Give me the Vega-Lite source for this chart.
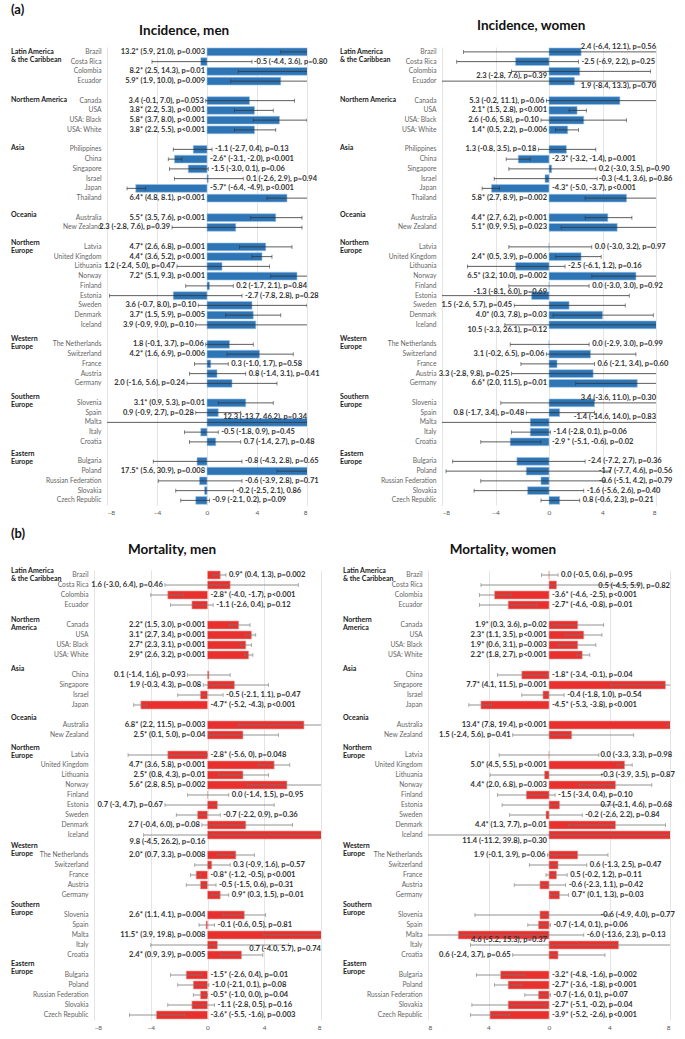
{
"$schema": "https://vega.github.io/schema/vega-lite/v6.json",
"background": "white",
"padding": {"left": 11, "top": 4, "right": 0, "bottom": 0},
"config": {
  "font": "Lato",
  "view": {"stroke": null},
  "axis": {"domain": false, "ticks": false, "labelColor": "#555", "labelFontSize": 6.5, "gridColor": "#d4d4d4", "gridWidth": 0.6},
  "title": {"font": "Lato", "color": "#111"}
},
"resolve": {"scale": {"x": "independent", "y": "independent"}},
"spacing": 12,
"vconcat": [
{
 "title": {"text": "(a)", "anchor": "start", "fontSize": 13, "fontWeight": "bold", "offset": 2},
 "spacing": 12,
 "resolve": {"scale": {"x": "independent", "y": "independent"}},
 "hconcat": [
 {
  "title": {"text": "Incidence, men", "fontSize": 13.5, "fontWeight": "bold", "anchor": "middle", "offset": 10, "dx": 15},
  "bounds": "flush",
  "spacing": 86,
  "resolve": {"scale": {"x": "independent", "y": "independent"}},
  "hconcat": [
  {
   "width": 10, "height": {"step": 9.75},
   "data": {"values": [
    {"g": "Latin America|& the Caribbean", "c": "Brazil"}, {"g": "Northern America", "c": "Canada"}, {"g": "Asia", "c": "Philippines"}, {"g": "Oceania", "c": "Australia"},
    {"g": "Northern|Europe", "c": "Latvia"}, {"g": "Western|Europe", "c": "The Netherlands"}, {"g": "Southern|Europe", "c": "Slovenia"}, {"g": "Eastern|Europe", "c": "Bulgaria"}]},
   "mark": {"type": "text", "align": "left", "baseline": "middle", "lineBreak": "|", "lineHeight": 8, "fontWeight": "bold", "fontSize": 7, "color": "#222"},
   "encoding": {
    "y": {"field": "c", "type": "nominal", "scale": {"domain": ["Brazil","Costa Rica","Colombia","Ecuador","_1","Canada","USA","USA: Black","USA: White","_2","Philippines","China","Singapore","Israel","Japan","Thailand","_3","Australia","New Zealand","_4","Latvia","United Kingdom","Lithuania","Norway","Finland","Estonia","Sweden","Denmark","Iceland","_5","The Netherlands","Switzerland","France","Austria","Germany","_6","Slovenia","Spain","Malta","Italy","Croatia","_7","Bulgaria","Poland","Russian Federation","Slovakia","Czech Republic"], "paddingInner": 0.2, "paddingOuter": 0.1}, "axis": null},
    "x": {"datum": 0, "type": "quantitative", "scale": {"domain": [0, 1]}, "axis": null},
    "text": {"field": "g"}
   }
  },
  {
  "data": {"values": [
{"r":"Latin America","c":"Brazil","e":13.2,"lo":5.9,"hi":21.0,"t":"13.2* (5.9, 21.0), p=0.003","s":"L"},
{"r":"Latin America","c":"Costa Rica","e":-0.5,"lo":-4.4,"hi":3.6,"t":"-0.5 (-4.4, 3.6), p=0.80","s":"R"},
{"r":"Latin America","c":"Colombia","e":8.2,"lo":2.5,"hi":14.3,"t":"8.2* (2.5, 14.3), p=0.01","s":"L"},
{"r":"Latin America","c":"Ecuador","e":5.9,"lo":1.9,"hi":10.0,"t":"5.9* (1.9, 10.0), p=0.009","s":"L"},
{"r":"Northern America","c":"Canada","e":3.4,"lo":-0.1,"hi":7.0,"t":"3.4 (-0.1, 7.0), p=0.053","s":"L"},
{"r":"Northern America","c":"USA","e":3.8,"lo":2.2,"hi":5.3,"t":"3.8* (2.2, 5.3), p<0.001","s":"L"},
{"r":"Northern America","c":"USA: Black","e":5.8,"lo":3.7,"hi":8.0,"t":"5.8* (3.7, 8.0), p<0.001","s":"L"},
{"r":"Northern America","c":"USA: White","e":3.8,"lo":2.2,"hi":5.5,"t":"3.8* (2.2, 5.5), p<0.001","s":"L"},
{"r":"Asia","c":"Philippines","e":-1.1,"lo":-2.7,"hi":0.4,"t":"-1.1 (-2.7, 0.4), p=0.13","s":"R"},
{"r":"Asia","c":"China","e":-2.6,"lo":-3.1,"hi":-2.0,"t":"-2.6* (-3.1, -2.0), p<0.001","s":"R"},
{"r":"Asia","c":"Singapore","e":-1.5,"lo":-3.0,"hi":0.1,"t":"-1.5 (-3.0, 0.1), p=0.06","s":"R"},
{"r":"Asia","c":"Israel","e":0.1,"lo":-2.6,"hi":2.9,"t":"0.1 (-2.6, 2.9), p=0.94","s":"R"},
{"r":"Asia","c":"Japan","e":-5.7,"lo":-6.4,"hi":-4.9,"t":"-5.7* (-6.4, -4.9), p<0.001","s":"R"},
{"r":"Asia","c":"Thailand","e":6.4,"lo":4.8,"hi":8.1,"t":"6.4* (4.8, 8.1), p<0.001","s":"L"},
{"r":"Oceania","c":"Australia","e":5.5,"lo":3.5,"hi":7.6,"t":"5.5* (3.5, 7.6), p<0.001","s":"L"},
{"r":"Oceania","c":"New Zealand","e":2.3,"lo":-2.8,"hi":7.6,"t":"2.3 (-2.8, 7.6), p=0.39","s":"L"},
{"r":"Northern Europe","c":"Latvia","e":4.7,"lo":2.6,"hi":6.8,"t":"4.7* (2.6, 6.8), p=0.001","s":"L"},
{"r":"Northern Europe","c":"United Kingdom","e":4.4,"lo":3.6,"hi":5.2,"t":"4.4* (3.6, 5.2), p<0.001","s":"L"},
{"r":"Northern Europe","c":"Lithuania","e":1.2,"lo":-2.4,"hi":5.0,"t":"1.2 (-2.4, 5.0), p=0.47","s":"L"},
{"r":"Northern Europe","c":"Norway","e":7.2,"lo":5.1,"hi":9.3,"t":"7.2* (5.1, 9.3), p<0.001","s":"L"},
{"r":"Northern Europe","c":"Finland","e":0.2,"lo":-1.7,"hi":2.1,"t":"0.2 (-1.7, 2.1), p=0.84","s":"R"},
{"r":"Northern Europe","c":"Estonia","e":-2.7,"lo":-7.8,"hi":2.8,"t":"-2.7 (-7.8, 2.8), p=0.28","s":"R"},
{"r":"Northern Europe","c":"Sweden","e":3.6,"lo":-0.7,"hi":8.0,"t":"3.6 (-0.7, 8.0), p=0.10","s":"L"},
{"r":"Northern Europe","c":"Denmark","e":3.7,"lo":1.5,"hi":5.9,"t":"3.7* (1.5, 5.9), p=0.005","s":"L"},
{"r":"Northern Europe","c":"Iceland","e":3.9,"lo":-0.9,"hi":9.0,"t":"3.9 (-0.9, 9.0), p=0.10","s":"L"},
{"r":"Western Europe","c":"The Netherlands","e":1.8,"lo":-0.1,"hi":3.7,"t":"1.8 (-0.1, 3.7), p=0.06","s":"L"},
{"r":"Western Europe","c":"Switzerland","e":4.2,"lo":1.6,"hi":6.9,"t":"4.2* (1.6, 6.9), p=0.006","s":"L"},
{"r":"Western Europe","c":"France","e":0.3,"lo":-1.0,"hi":1.7,"t":"0.3 (-1.0, 1.7), p=0.58","s":"R"},
{"r":"Western Europe","c":"Austria","e":0.8,"lo":-1.4,"hi":3.1,"t":"0.8 (-1.4, 3.1), p=0.41","s":"R"},
{"r":"Western Europe","c":"Germany","e":2.0,"lo":-1.6,"hi":5.6,"t":"2.0 (-1.6, 5.6), p=0.24","s":"L"},
{"r":"Southern Europe","c":"Slovenia","e":3.1,"lo":0.9,"hi":5.3,"t":"3.1* (0.9, 5.3), p=0.01","s":"L"},
{"r":"Southern Europe","c":"Spain","e":0.9,"lo":-0.9,"hi":2.7,"t":"0.9 (-0.9, 2.7), p=0.28","s":"L"},
{"r":"Southern Europe","c":"Malta","e":12.3,"lo":-13.7,"hi":46.2,"t":"12.3 (-13.7, 46.2), p=0.34","s":"RT"},
{"r":"Southern Europe","c":"Italy","e":-0.5,"lo":-1.8,"hi":0.9,"t":"-0.5 (-1.8, 0.9), p=0.45","s":"R"},
{"r":"Southern Europe","c":"Croatia","e":0.7,"lo":-1.4,"hi":2.7,"t":"0.7 (-1.4, 2.7), p=0.48","s":"R"},
{"r":"Eastern Europe","c":"Bulgaria","e":-0.8,"lo":-4.3,"hi":2.8,"t":"-0.8 (-4.3, 2.8), p=0.65","s":"R"},
{"r":"Eastern Europe","c":"Poland","e":17.5,"lo":5.6,"hi":30.9,"t":"17.5* (5.6, 30.9), p=0.008","s":"L"},
{"r":"Eastern Europe","c":"Russian Federation","e":-0.6,"lo":-3.9,"hi":2.8,"t":"-0.6 (-3.9, 2.8), p=0.71","s":"R"},
{"r":"Eastern Europe","c":"Slovakia","e":-0.2,"lo":-2.5,"hi":2.1,"t":"-0.2 (-2.5, 2.1), 0.86","s":"R"},
{"r":"Eastern Europe","c":"Czech Republic","e":-0.9,"lo":-2.1,"hi":0.2,"t":"-0.9 (-2.1, 0.2), p=0.09","s":"R"}
  ]},
   "width": 200,
   "height": {"step": 9.75},
   "encoding": {"y": {"field": "c", "type": "nominal", "scale": {"domain": ["Brazil","Costa Rica","Colombia","Ecuador","_1","Canada","USA","USA: Black","USA: White","_2","Philippines","China","Singapore","Israel","Japan","Thailand","_3","Australia","New Zealand","_4","Latvia","United Kingdom","Lithuania","Norway","Finland","Estonia","Sweden","Denmark","Iceland","_5","The Netherlands","Switzerland","France","Austria","Germany","_6","Slovenia","Spain","Malta","Italy","Croatia","_7","Bulgaria","Poland","Russian Federation","Slovakia","Czech Republic"], "paddingInner": 0.2, "paddingOuter": 0.1}, "axis": {"grid": false, "labelFontSize": 6.7, "labelColor": "#666", "labelPadding": 6, "labelExpr": "indexof(datum.value, '_') == 0 ? '' : datum.value"}, "title": null}},
   "layer": [
    {"mark": {"type": "bar", "clip": true, "color": "#2E75B6", "stroke": "#9DC3E6", "strokeWidth": 0.6}, "encoding": {"x": {"field": "e", "type": "quantitative", "scale": {"domain": [-8, 8], "nice": false}, "axis": {"values": [-8,-6,-4,-2,0,2,4,6,8], "grid": true, "labelPadding": 4}, "title": null}}},
    {"mark": {"type": "rule", "clip": true, "color": "#333", "strokeWidth": 0.8}, "encoding": {"x": {"field": "lo", "type": "quantitative"}, "x2": {"field": "hi"}}},
    {"mark": {"type": "tick", "clip": true, "color": "#333", "size": 4, "thickness": 0.8}, "encoding": {"x": {"field": "lo", "type": "quantitative"}}},
    {"mark": {"type": "tick", "clip": true, "color": "#333", "size": 4, "thickness": 0.8}, "encoding": {"x": {"field": "hi", "type": "quantitative"}}},
    {"transform": [{"filter": "datum.s == 'L'"}, {"calculate": "max(min(datum.lo, 0), -8)", "as": "ax"}], "mark": {"type": "text", "align": "right", "dx": -2, "fontSize": 7.5, "fontWeight": "bold", "color": "#333"}, "encoding": {"x": {"field": "ax", "type": "quantitative"}, "text": {"field": "t"}}},
    {"transform": [{"filter": "datum.s == 'R'"}, {"calculate": "min(max(datum.hi, 0), 3.5)", "as": "ax"}], "mark": {"type": "text", "align": "left", "dx": 3, "fontSize": 7.5, "fontWeight": "bold", "color": "#333"}, "encoding": {"x": {"field": "ax", "type": "quantitative"}, "text": {"field": "t"}}},
    {"transform": [{"filter": "datum.s == 'RT'"}], "mark": {"type": "text", "align": "right", "dy": -5, "fontSize": 7.5, "fontWeight": "bold", "color": "#333"}, "encoding": {"x": {"datum": 8}, "text": {"field": "t"}}}
   ]
  }
  ]
 },
 {
  "title": {"text": "Incidence, women", "fontSize": 13.5, "fontWeight": "bold", "anchor": "middle", "offset": 10, "dx": 25},
  "bounds": "flush",
  "spacing": 92,
  "resolve": {"scale": {"x": "independent", "y": "independent"}},
  "hconcat": [
  {
   "width": 10, "height": {"step": 9.75},
   "data": {"values": [
    {"g": "Latin America|& the Caribbean", "c": "Brazil"}, {"g": "Northern America", "c": "Canada"}, {"g": "Asia", "c": "Philippines"}, {"g": "Oceania", "c": "Australia"},
    {"g": "Northern|Europe", "c": "Latvia"}, {"g": "Western|Europe", "c": "The Netherlands"}, {"g": "Southern|Europe", "c": "Slovenia"}, {"g": "Eastern|Europe", "c": "Bulgaria"}]},
   "mark": {"type": "text", "align": "left", "baseline": "middle", "lineBreak": "|", "lineHeight": 8, "fontWeight": "bold", "fontSize": 7, "color": "#222"},
   "encoding": {
    "y": {"field": "c", "type": "nominal", "scale": {"domain": ["Brazil","Costa Rica","Colombia","Ecuador","_1","Canada","USA","USA: Black","USA: White","_2","Philippines","China","Singapore","Israel","Japan","Thailand","_3","Australia","New Zealand","_4","Latvia","United Kingdom","Lithuania","Norway","Finland","Estonia","Sweden","Denmark","Iceland","_5","The Netherlands","Switzerland","France","Austria","Germany","_6","Slovenia","Spain","Malta","Italy","Croatia","_7","Bulgaria","Poland","Russian Federation","Slovakia","Czech Republic"], "paddingInner": 0.2, "paddingOuter": 0.1}, "axis": null},
    "x": {"datum": 0, "type": "quantitative", "scale": {"domain": [0, 1]}, "axis": null},
    "text": {"field": "g"}
   }
  },
  {
  "data": {"values": [
{"r":"Latin America","c":"Brazil","e":2.4,"lo":-6.4,"hi":12.1,"t":"2.4 (-6.4, 12.1), p=0.56","s":"RT"},
{"r":"Latin America","c":"Costa Rica","e":-2.5,"lo":-6.9,"hi":2.2,"t":"-2.5 (-6.9, 2.2), p=0.25","s":"R"},
{"r":"Latin America","c":"Colombia","e":2.3,"lo":-2.8,"hi":7.6,"t":"2.3 (-2.8, 7.6), p=0.39","s":"LB"},
{"r":"Latin America","c":"Ecuador","e":1.9,"lo":-8.4,"hi":13.3,"t":"1.9 (-8.4, 13.3), p=0.70","s":"RB"},
{"r":"Northern America","c":"Canada","e":5.3,"lo":-0.2,"hi":11.1,"t":"5.3 (-0.2, 11.1), p=0.06","s":"L"},
{"r":"Northern America","c":"USA","e":2.1,"lo":1.5,"hi":2.8,"t":"2.1* (1.5, 2.8), p<0.001","s":"L"},
{"r":"Northern America","c":"USA: Black","e":2.6,"lo":-0.6,"hi":5.8,"t":"2.6 (-0.6, 5.8), p=0.10","s":"L"},
{"r":"Northern America","c":"USA: White","e":1.4,"lo":0.5,"hi":2.2,"t":"1.4* (0.5, 2.2), p=0.006","s":"L"},
{"r":"Asia","c":"Philippines","e":1.3,"lo":-0.8,"hi":3.5,"t":"1.3 (-0.8, 3.5), p=0.18","s":"L"},
{"r":"Asia","c":"China","e":-2.3,"lo":-3.2,"hi":-1.4,"t":"-2.3* (-3.2, -1.4), p=0.001","s":"R"},
{"r":"Asia","c":"Singapore","e":0.2,"lo":-3.0,"hi":3.5,"t":"0.2 (-3.0, 3.5), p=0.90","s":"R"},
{"r":"Asia","c":"Israel","e":-0.3,"lo":-4.1,"hi":3.6,"t":"-0.3 (-4.1, 3.6), p=0.86","s":"R"},
{"r":"Asia","c":"Japan","e":-4.3,"lo":-5.0,"hi":-3.7,"t":"-4.3* (-5.0, -3.7), p<0.001","s":"R"},
{"r":"Asia","c":"Thailand","e":5.8,"lo":2.7,"hi":8.9,"t":"5.8* (2.7, 8.9), p=0.002","s":"L"},
{"r":"Oceania","c":"Australia","e":4.4,"lo":2.7,"hi":6.2,"t":"4.4* (2.7, 6.2), p<0.001","s":"L"},
{"r":"Oceania","c":"New Zealand","e":5.1,"lo":0.9,"hi":9.5,"t":"5.1* (0.9, 9.5), p=0.023","s":"L"},
{"r":"Northern Europe","c":"Latvia","e":0.0,"lo":-3.0,"hi":3.2,"t":"0.0 (-3.0, 3.2), p=0.97","s":"R"},
{"r":"Northern Europe","c":"United Kingdom","e":2.4,"lo":0.5,"hi":3.9,"t":"2.4* (0.5, 3.9), p=0.006","s":"L"},
{"r":"Northern Europe","c":"Lithuania","e":-2.5,"lo":-6.1,"hi":1.2,"t":"-2.5 (-6.1, 1.2), p=0.16","s":"R"},
{"r":"Northern Europe","c":"Norway","e":6.5,"lo":3.2,"hi":10.0,"t":"6.5* (3.2, 10.0), p=0.002","s":"L"},
{"r":"Northern Europe","c":"Finland","e":0.0,"lo":-3.0,"hi":3.0,"t":"0.0 (-3.0, 3.0), p=0.92","s":"R"},
{"r":"Northern Europe","c":"Estonia","e":-1.3,"lo":-8.1,"hi":6.0,"t":"-1.3 (-8.1, 6.0), p=0.69","s":"LT"},
{"r":"Northern Europe","c":"Sweden","e":1.5,"lo":-2.6,"hi":5.7,"t":"1.5 (-2.6, 5.7), p=0.45","s":"L"},
{"r":"Northern Europe","c":"Denmark","e":4.0,"lo":0.3,"hi":7.8,"t":"4.0* (0.3, 7.8), p=0.03","s":"L"},
{"r":"Northern Europe","c":"Iceland","e":10.5,"lo":-3.3,"hi":26.1,"t":"10.5 (-3.3, 26.1), p=0.12","s":"LB"},
{"r":"Western Europe","c":"The Netherlands","e":0.0,"lo":-2.9,"hi":3.0,"t":"0.0 (-2.9, 3.0), p=0.99","s":"R"},
{"r":"Western Europe","c":"Switzerland","e":3.1,"lo":-0.2,"hi":6.5,"t":"3.1 (-0.2, 6.5), p=0.06","s":"L"},
{"r":"Western Europe","c":"France","e":0.6,"lo":-2.1,"hi":3.4,"t":"0.6 (-2.1, 3.4), p=0.60","s":"R"},
{"r":"Western Europe","c":"Austria","e":3.3,"lo":-2.8,"hi":9.8,"t":"3.3 (-2.8, 9.8), p=0.25","s":"L"},
{"r":"Western Europe","c":"Germany","e":6.6,"lo":2.0,"hi":11.5,"t":"6.6* (2.0, 11.5), p=0.01","s":"L"},
{"r":"Southern Europe","c":"Slovenia","e":3.4,"lo":-3.6,"hi":11.0,"t":"3.4 (-3.6, 11.0), p=0.30","s":"RT"},
{"r":"Southern Europe","c":"Spain","e":0.8,"lo":-1.7,"hi":3.4,"t":"0.8 (-1.7, 3.4), p=0.48","s":"L"},
{"r":"Southern Europe","c":"Malta","e":-1.4,"lo":-14.6,"hi":14.0,"t":"-1.4 (-14.6, 14.0), p=0.83","s":"RT"},
{"r":"Southern Europe","c":"Italy","e":-1.4,"lo":-2.8,"hi":0.1,"t":"-1.4 (-2.8, 0.1), p=0.06","s":"R"},
{"r":"Southern Europe","c":"Croatia","e":-2.9,"lo":-5.1,"hi":-0.6,"t":"-2.9 * (-5.1, -0.6), p=0.02","s":"R"},
{"r":"Eastern Europe","c":"Bulgaria","e":-2.4,"lo":-7.2,"hi":2.7,"t":"-2.4 (-7.2, 2.7), p=0.36","s":"R"},
{"r":"Eastern Europe","c":"Poland","e":-1.7,"lo":-7.7,"hi":4.6,"t":"-1.7 (-7.7, 4.6), p=0.56","s":"R"},
{"r":"Eastern Europe","c":"Russian Federation","e":-0.6,"lo":-5.1,"hi":4.2,"t":"-0.6 (-5.1, 4.2), p=0.79","s":"R"},
{"r":"Eastern Europe","c":"Slovakia","e":-1.6,"lo":-5.6,"hi":2.6,"t":"-1.6 (-5.6, 2.6), p=0.40","s":"R"},
{"r":"Eastern Europe","c":"Czech Republic","e":0.8,"lo":-0.6,"hi":2.3,"t":"0.8 (-0.6, 2.3), p=0.21","s":"R"}
  ]},
   "width": 214,
   "height": {"step": 9.75},
   "encoding": {"y": {"field": "c", "type": "nominal", "scale": {"domain": ["Brazil","Costa Rica","Colombia","Ecuador","_1","Canada","USA","USA: Black","USA: White","_2","Philippines","China","Singapore","Israel","Japan","Thailand","_3","Australia","New Zealand","_4","Latvia","United Kingdom","Lithuania","Norway","Finland","Estonia","Sweden","Denmark","Iceland","_5","The Netherlands","Switzerland","France","Austria","Germany","_6","Slovenia","Spain","Malta","Italy","Croatia","_7","Bulgaria","Poland","Russian Federation","Slovakia","Czech Republic"], "paddingInner": 0.2, "paddingOuter": 0.1}, "axis": {"grid": false, "labelFontSize": 6.7, "labelColor": "#666", "labelPadding": 6, "labelExpr": "indexof(datum.value, '_') == 0 ? '' : datum.value"}, "title": null}},
   "layer": [
    {"mark": {"type": "bar", "clip": true, "color": "#2E75B6", "stroke": "#9DC3E6", "strokeWidth": 0.6}, "encoding": {"x": {"field": "e", "type": "quantitative", "scale": {"domain": [-8, 8], "nice": false}, "axis": {"values": [-8,-6,-4,-2,0,2,4,6,8], "grid": true, "labelPadding": 4}, "title": null}}},
    {"mark": {"type": "rule", "clip": true, "color": "#333", "strokeWidth": 0.8}, "encoding": {"x": {"field": "lo", "type": "quantitative"}, "x2": {"field": "hi"}}},
    {"mark": {"type": "tick", "clip": true, "color": "#333", "size": 4, "thickness": 0.8}, "encoding": {"x": {"field": "lo", "type": "quantitative"}}},
    {"mark": {"type": "tick", "clip": true, "color": "#333", "size": 4, "thickness": 0.8}, "encoding": {"x": {"field": "hi", "type": "quantitative"}}},
    {"transform": [{"filter": "datum.s == 'L'"}, {"calculate": "max(min(datum.lo, 0), -8)", "as": "ax"}], "mark": {"type": "text", "align": "right", "dx": -2, "fontSize": 7.5, "fontWeight": "bold", "color": "#333"}, "encoding": {"x": {"field": "ax", "type": "quantitative"}, "text": {"field": "t"}}},
    {"transform": [{"filter": "datum.s == 'R'"}, {"calculate": "min(max(datum.hi, 0), 3.5)", "as": "ax"}], "mark": {"type": "text", "align": "left", "dx": 3, "fontSize": 7.5, "fontWeight": "bold", "color": "#333"}, "encoding": {"x": {"field": "ax", "type": "quantitative"}, "text": {"field": "t"}}},
    {"transform": [{"filter": "datum.s == 'LB'"}], "mark": {"type": "text", "align": "right", "dx": -2, "dy": 5, "fontSize": 7.5, "fontWeight": "bold", "color": "#333"}, "encoding": {"x": {"datum": 0}, "text": {"field": "t"}}},
    {"transform": [{"filter": "datum.s == 'LT'"}], "mark": {"type": "text", "align": "right", "dx": -2, "dy": -4, "fontSize": 7.5, "fontWeight": "bold", "color": "#333"}, "encoding": {"x": {"datum": 0}, "text": {"field": "t"}}},
    {"transform": [{"filter": "datum.s == 'RB'"}], "mark": {"type": "text", "align": "right", "dy": 5, "fontSize": 7.5, "fontWeight": "bold", "color": "#333"}, "encoding": {"x": {"datum": 8}, "text": {"field": "t"}}},
    {"transform": [{"filter": "datum.s == 'RT'"}], "mark": {"type": "text", "align": "right", "dy": -5, "fontSize": 7.5, "fontWeight": "bold", "color": "#333"}, "encoding": {"x": {"datum": 8}, "text": {"field": "t"}}}
   ]
  }
  ]
 }
 ]
},
{
 "title": {"text": "(b)", "anchor": "start", "fontSize": 13, "fontWeight": "bold", "offset": 2},
 "spacing": 22,
 "resolve": {"scale": {"x": "independent", "y": "independent"}},
 "hconcat": [
 {
  "title": {"text": "Mortality, men", "fontSize": 13.5, "fontWeight": "bold", "anchor": "middle", "offset": 10, "dx": 6},
  "bounds": "flush",
  "spacing": 73,
  "resolve": {"scale": {"x": "independent", "y": "independent"}},
  "hconcat": [
  {
   "width": 10, "height": {"step": 10},
   "data": {"values": [
    {"g": "Latin America|& the Caribbean", "c": "Brazil"}, {"g": "Northern|America", "c": "Canada"}, {"g": "Asia", "c": "China"}, {"g": "Oceania", "c": "Australia"},
    {"g": "Northern|Europe", "c": "Latvia"}, {"g": "Western|Europe", "c": "The Netherlands"}, {"g": "Southern|Europe", "c": "Slovenia"}, {"g": "Eastern|Europe", "c": "Bulgaria"}]},
   "mark": {"type": "text", "align": "left", "baseline": "middle", "dy": -4, "lineBreak": "|", "lineHeight": 8, "fontWeight": "bold", "fontSize": 7, "color": "#222"},
   "encoding": {
    "y": {"field": "c", "type": "nominal", "scale": {"domain": ["Brazil","Costa Rica","Colombia","Ecuador","_1","Canada","USA","USA: Black","USA: White","_2","China","Singapore","Israel","Japan","_3","Australia","New Zealand","_4","Latvia","United Kingdom","Lithuania","Norway","Finland","Estonia","Sweden","Denmark","Iceland","_5","The Netherlands","Switzerland","France","Austria","Germany","_6","Slovenia","Spain","Malta","Italy","Croatia","_7","Bulgaria","Poland","Russian Federation","Slovakia","Czech Republic"], "paddingInner": 0.2, "paddingOuter": 0.1}, "axis": null},
    "x": {"datum": 0, "type": "quantitative", "scale": {"domain": [0, 1]}, "axis": null},
    "text": {"field": "g"}
   }
  },
  {
  "data": {"values": [
{"r":"Latin America","c":"Brazil","e":0.9,"lo":0.4,"hi":1.3,"t":"0.9* (0.4, 1.3), p=0.002","s":"R"},
{"r":"Latin America","c":"Costa Rica","e":1.6,"lo":-3.0,"hi":6.4,"t":"1.6 (-3.0, 6.4), p=0.46","s":"L"},
{"r":"Latin America","c":"Colombia","e":-2.8,"lo":-4.0,"hi":-1.7,"t":"-2.8* (-4.0, -1.7), p<0.001","s":"R"},
{"r":"Latin America","c":"Ecuador","e":-1.1,"lo":-2.6,"hi":0.4,"t":"-1.1 (-2.6, 0.4), p=0.12","s":"R"},
{"r":"Northern America","c":"Canada","e":2.2,"lo":1.5,"hi":3.0,"t":"2.2* (1.5, 3.0), p<0.001","s":"L"},
{"r":"Northern America","c":"USA","e":3.1,"lo":2.7,"hi":3.4,"t":"3.1* (2.7, 3.4), p<0.001","s":"L"},
{"r":"Northern America","c":"USA: Black","e":2.7,"lo":2.3,"hi":3.1,"t":"2.7* (2.3, 3.1), p<0.001","s":"L"},
{"r":"Northern America","c":"USA: White","e":2.9,"lo":2.6,"hi":3.2,"t":"2.9* (2.6, 3.2), p<0.001","s":"L"},
{"r":"Asia","c":"China","e":0.1,"lo":-1.4,"hi":1.6,"t":"0.1 (-1.4, 1.6), p=0.93","s":"L"},
{"r":"Asia","c":"Singapore","e":1.9,"lo":-0.3,"hi":4.3,"t":"1.9 (-0.3, 4.3), p=0.08","s":"L"},
{"r":"Asia","c":"Israel","e":-0.5,"lo":-2.1,"hi":1.1,"t":"-0.5 (-2.1, 1.1), p=0.47","s":"R"},
{"r":"Asia","c":"Japan","e":-4.7,"lo":-5.2,"hi":-4.3,"t":"-4.7* (-5.2, -4.3), p<0.001","s":"R"},
{"r":"Oceania","c":"Australia","e":6.8,"lo":2.2,"hi":11.5,"t":"6.8* (2.2, 11.5), p=0.003","s":"L"},
{"r":"Oceania","c":"New Zealand","e":2.5,"lo":0.1,"hi":5.0,"t":"2.5* (0.1, 5.0), p=0.04","s":"L"},
{"r":"Northern Europe","c":"Latvia","e":-2.8,"lo":-5.6,"hi":0.0,"t":"-2.8* (-5.6, 0), p=0.048","s":"R"},
{"r":"Northern Europe","c":"United Kingdom","e":4.7,"lo":3.6,"hi":5.8,"t":"4.7* (3.6, 5.8), p<0.001","s":"L"},
{"r":"Northern Europe","c":"Lithuania","e":2.5,"lo":0.8,"hi":4.3,"t":"2.5* (0.8, 4.3), p=0.01","s":"L"},
{"r":"Northern Europe","c":"Norway","e":5.6,"lo":2.8,"hi":8.5,"t":"5.6* (2.8, 8.5), p=0.002","s":"L"},
{"r":"Northern Europe","c":"Finland","e":0.0,"lo":-1.4,"hi":1.5,"t":"0.0 (-1.4, 1.5), p=0.95","s":"R"},
{"r":"Northern Europe","c":"Estonia","e":0.7,"lo":-3.0,"hi":4.7,"t":"0.7 (-3, 4.7), p=0.67","s":"L"},
{"r":"Northern Europe","c":"Sweden","e":-0.7,"lo":-2.2,"hi":0.9,"t":"-0.7 (-2.2, 0.9), p=0.36","s":"R"},
{"r":"Northern Europe","c":"Denmark","e":2.7,"lo":-0.4,"hi":6.0,"t":"2.7 (-0.4, 6.0), p=0.08","s":"L"},
{"r":"Northern Europe","c":"Iceland","e":9.8,"lo":-4.5,"hi":26.2,"t":"9.8 (-4.5, 26.2), p=0.16","s":"LB"},
{"r":"Western Europe","c":"The Netherlands","e":2.0,"lo":0.7,"hi":3.3,"t":"2.0* (0.7, 3.3), p=0.008","s":"L"},
{"r":"Western Europe","c":"Switzerland","e":0.3,"lo":-0.9,"hi":1.6,"t":"0.3 (-0.9, 1.6), p=0.57","s":"R"},
{"r":"Western Europe","c":"France","e":-0.8,"lo":-1.2,"hi":-0.5,"t":"-0.8* (-1.2, -0.5), p<0.001","s":"R"},
{"r":"Western Europe","c":"Austria","e":-0.5,"lo":-1.5,"hi":0.6,"t":"-0.5 (-1.5, 0.6), p=0.31","s":"R"},
{"r":"Western Europe","c":"Germany","e":0.9,"lo":0.3,"hi":1.5,"t":"0.9* (0.3, 1.5), p=0.01","s":"R"},
{"r":"Southern Europe","c":"Slovenia","e":2.6,"lo":1.1,"hi":4.1,"t":"2.6* (1.1, 4.1), p=0.004","s":"L"},
{"r":"Southern Europe","c":"Spain","e":-0.1,"lo":-0.6,"hi":0.5,"t":"-0.1 (-0.6, 0.5), p=0.81","s":"R"},
{"r":"Southern Europe","c":"Malta","e":11.5,"lo":3.9,"hi":19.8,"t":"11.5* (3.9, 19.8), p=0.008","s":"L"},
{"r":"Southern Europe","c":"Italy","e":0.7,"lo":-4.0,"hi":5.7,"t":"0.7 (-4.0, 5.7), p=0.74","s":"RB"},
{"r":"Southern Europe","c":"Croatia","e":2.4,"lo":0.9,"hi":3.9,"t":"2.4* (0.9, 3.9), p=0.005","s":"L"},
{"r":"Eastern Europe","c":"Bulgaria","e":-1.5,"lo":-2.6,"hi":-0.4,"t":"-1.5* (-2.6, 0.4), p=0.01","s":"R"},
{"r":"Eastern Europe","c":"Poland","e":-1.0,"lo":-2.1,"hi":0.1,"t":"-1.0 (-2.1, 0.1), p=0.08","s":"R"},
{"r":"Eastern Europe","c":"Russian Federation","e":-0.5,"lo":-1.0,"hi":0.0,"t":"-0.5* (-1.0, 0.0), p=0.04","s":"R"},
{"r":"Eastern Europe","c":"Slovakia","e":-1.1,"lo":-2.8,"hi":0.5,"t":"-1.1 (-2.8, 0.5), p=0.16","s":"R"},
{"r":"Eastern Europe","c":"Czech Republic","e":-3.6,"lo":-5.5,"hi":-1.6,"t":"-3.6* (-5.5, -1.6), p=0.003","s":"R"}
  ]},
   "width": 227,
   "height": {"step": 10},
   "encoding": {"y": {"field": "c", "type": "nominal", "scale": {"domain": ["Brazil","Costa Rica","Colombia","Ecuador","_1","Canada","USA","USA: Black","USA: White","_2","China","Singapore","Israel","Japan","_3","Australia","New Zealand","_4","Latvia","United Kingdom","Lithuania","Norway","Finland","Estonia","Sweden","Denmark","Iceland","_5","The Netherlands","Switzerland","France","Austria","Germany","_6","Slovenia","Spain","Malta","Italy","Croatia","_7","Bulgaria","Poland","Russian Federation","Slovakia","Czech Republic"], "paddingInner": 0.2, "paddingOuter": 0.1}, "axis": {"grid": false, "labelFontSize": 6.7, "labelColor": "#666", "labelPadding": 6, "labelExpr": "indexof(datum.value, '_') == 0 ? '' : datum.value"}, "title": null}},
   "layer": [
    {"mark": {"type": "bar", "clip": true, "color": "#E8312F", "stroke": "#F4A6A0", "strokeWidth": 0.6}, "encoding": {"x": {"field": "e", "type": "quantitative", "scale": {"domain": [-8, 8], "nice": false}, "axis": {"values": [-8,-6,-4,-2,0,2,4,6,8], "grid": true, "labelPadding": 4}, "title": null}}},
    {"mark": {"type": "rule", "clip": true, "color": "#777", "strokeWidth": 0.8}, "encoding": {"x": {"field": "lo", "type": "quantitative"}, "x2": {"field": "hi"}}},
    {"mark": {"type": "tick", "clip": true, "color": "#777", "size": 4, "thickness": 0.8}, "encoding": {"x": {"field": "lo", "type": "quantitative"}}},
    {"mark": {"type": "tick", "clip": true, "color": "#777", "size": 4, "thickness": 0.8}, "encoding": {"x": {"field": "hi", "type": "quantitative"}}},
    {"transform": [{"filter": "datum.s == 'L'"}, {"calculate": "max(min(datum.lo, 0), -8)", "as": "ax"}], "mark": {"type": "text", "align": "right", "dx": -2, "fontSize": 7.6, "fontWeight": "bold", "color": "#333"}, "encoding": {"x": {"field": "ax", "type": "quantitative"}, "text": {"field": "t"}}},
    {"transform": [{"filter": "datum.s == 'R'"}, {"calculate": "min(max(datum.hi, 0), 3.5)", "as": "ax"}], "mark": {"type": "text", "align": "left", "dx": 3, "fontSize": 7.6, "fontWeight": "bold", "color": "#333"}, "encoding": {"x": {"field": "ax", "type": "quantitative"}, "text": {"field": "t"}}},
    {"transform": [{"filter": "datum.s == 'LB'"}], "mark": {"type": "text", "align": "right", "dx": -2, "dy": 7, "fontSize": 7.6, "fontWeight": "bold", "color": "#333"}, "encoding": {"x": {"datum": 0}, "text": {"field": "t"}}},
    {"transform": [{"filter": "datum.s == 'RB'"}], "mark": {"type": "text", "align": "right", "dy": 4, "fontSize": 7.6, "fontWeight": "bold", "color": "#333"}, "encoding": {"x": {"datum": 8}, "text": {"field": "t"}}}
   ]
  }
  ]
 },
 {
  "title": {"text": "Mortality, women", "fontSize": 13.5, "fontWeight": "bold", "anchor": "middle", "offset": 10, "dx": -6},
  "bounds": "flush",
  "spacing": 75,
  "resolve": {"scale": {"x": "independent", "y": "independent"}},
  "hconcat": [
  {
   "width": 10, "height": {"step": 10},
   "data": {"values": [
    {"g": "Latin America|& the Caribbean", "c": "Brazil"}, {"g": "Northern|America", "c": "Canada"}, {"g": "Asia", "c": "China"}, {"g": "Oceania", "c": "Australia"},
    {"g": "Northern|Europe", "c": "Latvia"}, {"g": "Western|Europe", "c": "The Netherlands"}, {"g": "Southern|Europe", "c": "Slovenia"}, {"g": "Eastern|Europe", "c": "Bulgaria"}]},
   "mark": {"type": "text", "align": "left", "baseline": "middle", "dy": -4, "lineBreak": "|", "lineHeight": 8, "fontWeight": "bold", "fontSize": 7, "color": "#222"},
   "encoding": {
    "y": {"field": "c", "type": "nominal", "scale": {"domain": ["Brazil","Costa Rica","Colombia","Ecuador","_1","Canada","USA","USA: Black","USA: White","_2","China","Singapore","Israel","Japan","_3","Australia","New Zealand","_4","Latvia","United Kingdom","Lithuania","Norway","Finland","Estonia","Sweden","Denmark","Iceland","_5","The Netherlands","Switzerland","France","Austria","Germany","_6","Slovenia","Spain","Malta","Italy","Croatia","_7","Bulgaria","Poland","Russian Federation","Slovakia","Czech Republic"], "paddingInner": 0.2, "paddingOuter": 0.1}, "axis": null},
    "x": {"datum": 0, "type": "quantitative", "scale": {"domain": [0, 1]}, "axis": null},
    "text": {"field": "g"}
   }
  },
  {
  "data": {"values": [
{"r":"Latin America","c":"Brazil","e":0.0,"lo":-0.5,"hi":0.6,"t":"0.0 (-0.5, 0.6), p=0.95","s":"R"},
{"r":"Latin America","c":"Costa Rica","e":0.5,"lo":-4.5,"hi":5.9,"t":"0.5 (-4.5, 5.9), p=0.82","s":"RB"},
{"r":"Latin America","c":"Colombia","e":-3.6,"lo":-4.6,"hi":-2.5,"t":"-3.6* (-4.6, -2.5), p<0.001","s":"R"},
{"r":"Latin America","c":"Ecuador","e":-2.7,"lo":-4.6,"hi":-0.8,"t":"-2.7* (-4.6, -0.8), p=0.01","s":"R"},
{"r":"Northern America","c":"Canada","e":1.9,"lo":0.3,"hi":3.6,"t":"1.9* (0.3, 3.6), p=0.02","s":"L"},
{"r":"Northern America","c":"USA","e":2.3,"lo":1.1,"hi":3.5,"t":"2.3* (1.1, 3.5), p<0.001","s":"L"},
{"r":"Northern America","c":"USA: Black","e":1.9,"lo":0.6,"hi":3.1,"t":"1.9* (0.6, 3.1), p=0.003","s":"L"},
{"r":"Northern America","c":"USA: White","e":2.2,"lo":1.8,"hi":2.7,"t":"2.2* (1.8, 2.7), p<0.001","s":"L"},
{"r":"Asia","c":"China","e":-1.8,"lo":-3.4,"hi":-0.1,"t":"-1.8* (-3.4, -0.1), p=0.04","s":"R"},
{"r":"Asia","c":"Singapore","e":7.7,"lo":4.1,"hi":11.5,"t":"7.7* (4.1, 11.5), p=0.001","s":"L"},
{"r":"Asia","c":"Israel","e":-0.4,"lo":-1.8,"hi":1.0,"t":"-0.4 (-1.8, 1.0), p=0.54","s":"R"},
{"r":"Asia","c":"Japan","e":-4.5,"lo":-5.3,"hi":-3.8,"t":"-4.5* (-5.3, -3.8), p<0.001","s":"R"},
{"r":"Oceania","c":"Australia","e":13.4,"lo":7.8,"hi":19.4,"t":"13.4* (7.8, 19.4), p<0.001","s":"L"},
{"r":"Oceania","c":"New Zealand","e":1.5,"lo":-2.4,"hi":5.6,"t":"1.5 (-2.4, 5.6), p=0.41","s":"L"},
{"r":"Northern Europe","c":"Latvia","e":0.0,"lo":-3.3,"hi":3.3,"t":"0.0 (-3.3, 3.3), p=0.98","s":"R"},
{"r":"Northern Europe","c":"United Kingdom","e":5.0,"lo":4.5,"hi":5.5,"t":"5.0* (4.5, 5.5), p<0.001","s":"L"},
{"r":"Northern Europe","c":"Lithuania","e":-0.3,"lo":-3.9,"hi":3.5,"t":"-0.3 (-3.9, 3.5), p=0.87","s":"R"},
{"r":"Northern Europe","c":"Norway","e":4.4,"lo":2.0,"hi":6.8,"t":"4.4* (2.0, 6.8), p=0.003","s":"L"},
{"r":"Northern Europe","c":"Finland","e":-1.5,"lo":-3.4,"hi":0.4,"t":"-1.5 (-3.4, 0.4), p=0.10","s":"R"},
{"r":"Northern Europe","c":"Estonia","e":0.7,"lo":-3.1,"hi":4.6,"t":"0.7 (-3.1, 4.6), p=0.68","s":"R"},
{"r":"Northern Europe","c":"Sweden","e":-0.2,"lo":-2.6,"hi":2.2,"t":"-0.2 (-2.6, 2.2), p=0.84","s":"R"},
{"r":"Northern Europe","c":"Denmark","e":4.4,"lo":1.3,"hi":7.7,"t":"4.4* (1.3, 7.7), p=0.01","s":"L"},
{"r":"Northern Europe","c":"Iceland","e":11.4,"lo":-11.2,"hi":39.8,"t":"11.4 (-11.2, 39.8), p=0.30","s":"LB"},
{"r":"Western Europe","c":"The Netherlands","e":1.9,"lo":-0.1,"hi":3.9,"t":"1.9 (-0.1, 3.9), p=0.06","s":"L"},
{"r":"Western Europe","c":"Switzerland","e":0.6,"lo":-1.3,"hi":2.5,"t":"0.6 (-1.3, 2.5), p=0.47","s":"R"},
{"r":"Western Europe","c":"France","e":0.5,"lo":-0.2,"hi":1.2,"t":"0.5 (-0.2, 1.2), p=0.11","s":"R"},
{"r":"Western Europe","c":"Austria","e":-0.6,"lo":-2.3,"hi":1.1,"t":"-0.6 (-2.3, 1.1), p=0.42","s":"R"},
{"r":"Western Europe","c":"Germany","e":0.7,"lo":0.1,"hi":1.3,"t":"0.7* (0.1, 1.3), p=0.03","s":"R"},
{"r":"Southern Europe","c":"Slovenia","e":-0.6,"lo":-4.9,"hi":4.0,"t":"-0.6 (-4.9, 4.0), p=0.77","s":"R"},
{"r":"Southern Europe","c":"Spain","e":-0.7,"lo":-1.4,"hi":0.1,"t":"-0.7 (-1.4, 0.1), p=0.06","s":"R"},
{"r":"Southern Europe","c":"Malta","e":-6.0,"lo":-13.6,"hi":2.3,"t":"-6.0 (-13.6, 2.3), p=0.13","s":"R"},
{"r":"Southern Europe","c":"Italy","e":4.6,"lo":-5.2,"hi":15.3,"t":"4.6 (-5.2, 15.3), p=0.37","s":"LT"},
{"r":"Southern Europe","c":"Croatia","e":0.6,"lo":-2.4,"hi":3.7,"t":"0.6 (-2.4, 3.7), p=0.65","s":"L"},
{"r":"Eastern Europe","c":"Bulgaria","e":-3.2,"lo":-4.8,"hi":-1.6,"t":"-3.2* (-4.8, -1.6), p=0.002","s":"R"},
{"r":"Eastern Europe","c":"Poland","e":-2.7,"lo":-3.6,"hi":-1.8,"t":"-2.7* (-3.6, -1.8), p<0.001","s":"R"},
{"r":"Eastern Europe","c":"Russian Federation","e":-0.7,"lo":-1.6,"hi":0.1,"t":"-0.7 (-1.6, 0.1), p=0.07","s":"R"},
{"r":"Eastern Europe","c":"Slovakia","e":-2.7,"lo":-5.1,"hi":-0.2,"t":"-2.7* (-5.1, -0.2), p=0.04","s":"R"},
{"r":"Eastern Europe","c":"Czech Republic","e":-3.9,"lo":-5.2,"hi":-2.6,"t":"-3.9* (-5.2, -2.6), p<0.001","s":"R"}
  ]},
   "width": 242,
   "height": {"step": 10},
   "encoding": {"y": {"field": "c", "type": "nominal", "scale": {"domain": ["Brazil","Costa Rica","Colombia","Ecuador","_1","Canada","USA","USA: Black","USA: White","_2","China","Singapore","Israel","Japan","_3","Australia","New Zealand","_4","Latvia","United Kingdom","Lithuania","Norway","Finland","Estonia","Sweden","Denmark","Iceland","_5","The Netherlands","Switzerland","France","Austria","Germany","_6","Slovenia","Spain","Malta","Italy","Croatia","_7","Bulgaria","Poland","Russian Federation","Slovakia","Czech Republic"], "paddingInner": 0.2, "paddingOuter": 0.1}, "axis": {"grid": false, "labelFontSize": 6.7, "labelColor": "#666", "labelPadding": 6, "labelExpr": "indexof(datum.value, '_') == 0 ? '' : datum.value"}, "title": null}},
   "layer": [
    {"mark": {"type": "bar", "clip": true, "color": "#E8312F", "stroke": "#F4A6A0", "strokeWidth": 0.6}, "encoding": {"x": {"field": "e", "type": "quantitative", "scale": {"domain": [-8, 8], "nice": false}, "axis": {"values": [-8,-6,-4,-2,0,2,4,6,8], "labelExpr": "abs(datum.value)", "grid": true, "labelPadding": 4}, "title": null}}},
    {"mark": {"type": "rule", "clip": true, "color": "#777", "strokeWidth": 0.8}, "encoding": {"x": {"field": "lo", "type": "quantitative"}, "x2": {"field": "hi"}}},
    {"mark": {"type": "tick", "clip": true, "color": "#777", "size": 4, "thickness": 0.8}, "encoding": {"x": {"field": "lo", "type": "quantitative"}}},
    {"mark": {"type": "tick", "clip": true, "color": "#777", "size": 4, "thickness": 0.8}, "encoding": {"x": {"field": "hi", "type": "quantitative"}}},
    {"transform": [{"filter": "datum.s == 'L'"}, {"calculate": "max(min(datum.lo, 0), -8)", "as": "ax"}], "mark": {"type": "text", "align": "right", "dx": -2, "fontSize": 7.6, "fontWeight": "bold", "color": "#333"}, "encoding": {"x": {"field": "ax", "type": "quantitative"}, "text": {"field": "t"}}},
    {"transform": [{"filter": "datum.s == 'R'"}, {"calculate": "min(max(datum.hi, 0), 3.2)", "as": "ax"}], "mark": {"type": "text", "align": "left", "dx": 3, "fontSize": 7.6, "fontWeight": "bold", "color": "#333"}, "encoding": {"x": {"field": "ax", "type": "quantitative"}, "text": {"field": "t"}}},
    {"transform": [{"filter": "datum.s == 'LB'"}], "mark": {"type": "text", "align": "right", "dx": -2, "dy": 6, "fontSize": 7.6, "fontWeight": "bold", "color": "#333"}, "encoding": {"x": {"datum": 0}, "text": {"field": "t"}}},
    {"transform": [{"filter": "datum.s == 'LT'"}], "mark": {"type": "text", "align": "right", "dx": -2, "dy": -5, "fontSize": 7.6, "fontWeight": "bold", "color": "#333"}, "encoding": {"x": {"datum": 0}, "text": {"field": "t"}}},
    {"transform": [{"filter": "datum.s == 'RB'"}], "mark": {"type": "text", "align": "right", "dy": 1, "fontSize": 7.6, "fontWeight": "bold", "color": "#333"}, "encoding": {"x": {"datum": 8}, "text": {"field": "t"}}}
   ]
  }
  ]
 }
 ]
}
]
}
